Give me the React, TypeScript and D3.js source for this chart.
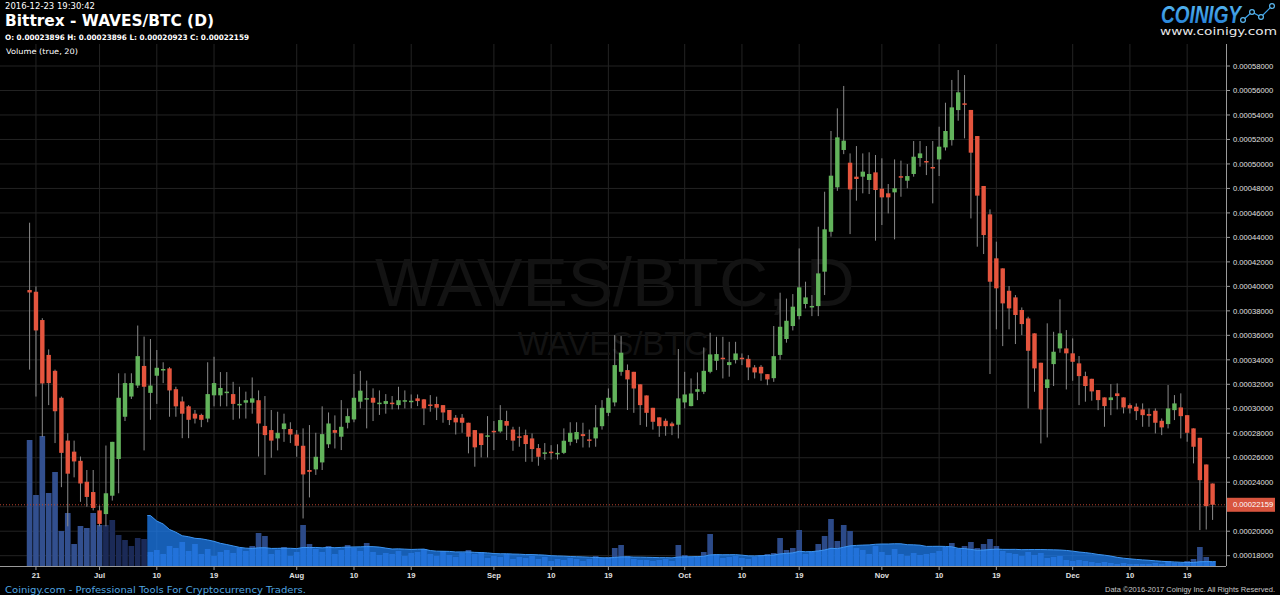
import React from 'react';
import * as d3 from 'd3';

// ---------- DATA (prices in units of 1e-5 BTC) ----------
const START_DATE = '2016-06-20';
const UNIT = 1e-5;

const openE5 = [
  39.7,39.56,37.25,34.4,33.1,30.9,27.4,26.5,25.75,24.04,
  23.2,21.7,21.4,22.9,25.9,29.35,31.0,31.9,33.5,31.3,
  32.7,33.15,33.3,31.6,30.6,30.2,29.6,29.5,29.2,31.1,
  31.1,31.3,31.2,30.3,30.5,30.5,30.7,28.6,28.26,27.58,
  28.34,28.35,27.9,26.98,25.0,25.05,25.62,27.1,28.26,27.72,
  28.86,29.13,30.58,30.77,30.9,30.4,30.4,30.5,30.3,30.66,
  30.6,30.85,30.77,30.35,30.39,30.3,29.9,29.27,29.27,28.86,
  28.26,27.99,27.75,28.2,28.15,29.0,28.3,27.75,27.85,27.58,
  26.79,26.36,26.5,26.33,26.4,27.3,27.5,27.93,27.5,27.58,
  28.58,29.67,30.52,33.02,33.16,33.02,32.0,31.09,30.08,29.3,
  29.02,28.8,28.7,30.52,30.22,31.39,31.39,33.02,33.92,34.17,
  33.57,33.98,34.17,34.08,33.38,33.43,32.83,32.5,34.4,35.7,
  36.76,37.57,38.56,38.35,38.39,41.2,44.46,48.09,51.14,50.1,
  48.96,48.96,48.69,49.31,47.98,47.6,47.68,49.0,48.63,49.18,
  50.48,50.24,49.75,50.37,51.35,51.95,54.4,54.95,54.41,52.28,
  48.2,45.88,42.29,41.47,39.64,39.1,38.07,37.38,36.16,33.76,
  31.7,33.65,34.93,34.93,34.53,33.71,32.67,32.45,31.53,30.93,
  30.71,31.26,30.93,30.3,30.17,29.95,29.57,29.84,29.02,28.75,
  29.89,30.11,29.48,28.4,27.63,25.45,23.896,
];
const highE5 = [
  45.2,40.0,37.4,34.85,33.2,31.0,28.0,27.4,26.1,25.0,
  25.0,22.1,27.0,27.3,32.9,32.9,32.9,36.8,35.9,35.7,
  34.8,33.8,33.4,31.8,31.0,30.3,29.9,29.6,33.8,34.25,
  33.0,33.0,32.2,31.8,31.4,32.56,31.5,31.04,29.9,29.76,
  29.6,28.9,28.26,28.4,28.67,28.04,30.2,29.7,29.46,30.71,
  30.03,32.84,33.1,32.3,31.67,31.5,31.2,31.04,31.8,31.5,
  31.17,31.17,30.8,31.12,30.99,30.3,29.9,29.49,29.57,28.86,
  28.26,27.99,29.4,29.0,30.3,29.84,28.53,28.53,28.3,27.99,
  27.12,27.2,27.03,27.1,28.4,28.9,28.9,28.86,28.3,30.3,
  30.71,31.66,36.02,35.94,33.62,33.02,32.0,31.09,30.08,29.3,
  29.2,28.94,34.88,33.02,32.48,32.97,35.01,36.21,35.88,35.88,
  35.47,35.47,34.52,34.38,33.57,33.57,32.83,36.76,39.48,39.0,
  39.37,43.1,40.38,39.29,44.87,47.73,52.69,54.54,56.37,50.86,
  51.46,50.86,50.95,50.73,50.46,48.36,50.37,50.27,49.99,51.87,
  51.87,51.46,51.87,53.04,55.0,56.86,57.67,57.26,54.41,52.28,
  48.2,46.29,43.65,41.47,40.03,39.29,38.28,37.52,36.16,33.76,
  36.98,36.29,38.94,36.43,35.75,34.31,33.03,32.45,31.53,30.93,
  32.02,32.07,30.93,30.44,30.44,30.44,30.03,30.03,29.21,31.94,
  31.12,31.26,29.48,28.4,27.63,25.45,23.896,
];
const lowE5 = [
  33.2,31.0,27.7,30.3,27.2,23.6,20.4,24.4,22.4,22.0,
  21.7,20.4,20.4,22.5,23.1,29.0,30.8,31.7,26.6,29.1,
  30.4,32.1,29.35,29.35,27.6,27.6,28.8,28.5,28.9,30.2,
  30.2,30.2,29.1,29.2,29.2,29.6,26.1,24.6,26.0,26.6,
  27.3,27.2,26.08,21.04,22.76,24.6,25.0,26.8,26.76,26.63,
  28.4,28.9,30.03,28.4,29.0,29.5,29.6,29.95,29.95,30.03,
  30.03,30.22,28.67,29.76,29.08,28.86,28.67,27.9,28.04,26.36,
  25.27,26.03,26.03,26.63,28.04,27.45,26.57,26.9,25.67,25.67,
  25.35,25.83,25.86,25.86,26.3,27.0,27.2,26.84,26.84,26.9,
  28.3,29.4,30.2,32.7,29.9,29.67,28.67,28.53,28.3,27.71,
  27.8,27.85,27.58,30.03,30.2,30.71,31.2,32.9,33.16,32.48,
  32.62,33.7,33.57,32.34,32.48,32.29,31.93,32.2,34.0,35.4,
  36.4,37.3,38.2,37.57,37.57,39.29,44.06,47.8,50.8,44.27,
  47.0,47.6,47.54,43.73,45.01,45.96,43.84,47.32,48.01,48.96,
  49.78,49.09,46.78,49.01,51.1,51.5,53.53,52.09,45.55,43.24,
  42.64,32.84,36.49,35.12,36.49,35.29,36.02,30.03,31.39,27.17,
  27.66,31.86,34.58,31.58,32.29,30.3,30.58,30.66,29.89,28.53,
  29.48,29.95,29.62,29.62,29.08,28.53,28.53,27.99,27.85,28.4,
  29.08,27.58,27.31,25.54,20.09,20.14,20.923,
];
const closeE5 = [
  39.5,36.4,32.07,32.1,29.8,26.4,24.7,25.7,23.9,22.8,
  21.9,20.6,23.1,27.3,30.9,32.1,32.1,34.3,31.8,31.9,
  33.35,33.25,31.5,30.2,29.6,29.1,29.2,29.1,31.2,32.1,
  31.7,31.4,30.4,30.4,30.7,30.85,28.8,27.85,27.4,28.04,
  28.8,27.9,26.98,24.64,24.85,26.08,27.93,28.8,28.04,28.53,
  29.4,30.9,31.48,30.87,30.5,30.5,30.63,30.4,30.7,30.7,
  30.66,30.63,30.03,30.3,30.09,29.7,29.08,28.89,28.86,27.72,
  26.85,27.04,27.83,28.1,29.08,28.62,27.4,27.7,27.12,26.71,
  26.08,26.44,26.45,26.4,27.39,28.04,28.1,27.77,27.4,28.48,
  30.08,30.9,33.57,34.58,32.4,31.66,30.3,29.67,28.94,28.58,
  28.58,28.58,30.85,31.17,31.25,31.6,33.1,34.44,34.47,34.1,
  33.81,34.52,34.1,33.38,32.97,32.89,32.4,34.3,36.7,37.19,
  38.34,39.92,39.1,38.4,41.06,44.66,49.04,52.17,51.9,47.92,
  48.77,49.37,49.18,47.87,47.27,47.27,48.01,48.95,49.01,50.59,
  50.86,50.17,49.68,51.41,52.69,54.62,55.85,54.84,50.92,47.41,
  44.19,40.38,39.84,38.61,38.2,37.66,36.92,34.74,33.3,29.95,
  32.4,34.66,36.16,34.53,33.84,32.67,31.86,31.42,30.71,30.22,
  30.93,31.04,30.11,30.03,29.81,29.48,29.43,28.86,28.48,30.03,
  30.44,29.4,28.04,26.9,24.17,22.05,22.159,
];
const volume = [
  126,71,130,73,94,35,53,22,40,38,53,41,41,46,31,26,20,28,27,
  14,16,12,20,18,24,15,22,12,17,10,14,
  16,13,18,15,20,33,30,12,16,19,10,14,
  41,
  22,17,14,20,12,16,21,18,15,23,14,11,13,12,15,10,13,
  14,17,12,10,15,11,9,13,16,12,14,8,10,9,12,7,9,8,10,7,9,
  5,7,6,8,7,5,7,10,8,9,18,21,10,7,6,6,5,6,7,5,
  21,
  11,9,10,14,32,12,8,9,10,8,7,9,11,12,13,
  28,16,18,36,12,14,22,30,47,25,41,35,18,16,12,20,14,11,17,12,
  10,13,11,12,13,15,19,23,17,20,24,18,22,27,20,15,13,12,10,14,11,13,
  8,9,10,6,5,6,5,4,3,4,3,2,3,2,2,2,2,3,2,5,3,3,5,7,19,9,4,
];
const MA_PERIOD = 20;
const priceTicks = [
  0.00018,0.0002,0.00022,0.00024,0.00026,0.00028,0.0003,0.00032,0.00034,0.00036,
  0.00038,0.0004,0.00042,0.00044,0.00046,0.00048,0.0005,0.00052,0.00054,0.00056,0.00058,
];
const dateTicks = [
  '2016-06-21','2016-07-01','2016-07-10','2016-07-19','2016-08-01','2016-08-10','2016-08-19',
  '2016-09-01','2016-09-10','2016-09-19','2016-10-01','2016-10-10','2016-10-19',
  '2016-11-01','2016-11-10','2016-11-19','2016-12-01','2016-12-10','2016-12-19',
];
const lastPrice = 0.00022159;

const parse = d3.utcParse('%Y-%m-%d');

export default function App() {
  const W = 1280, H = 595;
  const plotRight = 1226, plotTop = 44, plotBottom = 566;
  const start = parse(START_DATE) as Date;
  const dates = openE5.map((_, i) => d3.utcDay.offset(start, i));
  const x = d3.scaleUtc().domain([dates[0], dates[dates.length - 1]]).range([29.6, 1212.6]);
  const y = d3.scaleLinear().domain([0.00018, 0.00058]).range([555.7, 66]);
  const yv = d3.scaleLinear().domain([0, 130]).range([plotBottom, 436]);
  const step = x(dates[1]) - x(dates[0]);
  const bodyW = 4.4;
  const barW = step - 0.7;

  const ma: (number | null)[] = volume.map((_, i) =>
    i < MA_PERIOD - 1 ? null : (d3.mean(volume.slice(i - MA_PERIOD + 1, i + 1)) as number)
  );
  const maPts: [number, number][] = [];
  ma.forEach((m, i) => { if (m != null) maPts.push([x(dates[i]), yv(m)]); });
  const first = maPts[0], last = maPts[maPts.length - 1];
  const maFull: [number, number][] = [[first[0] - step / 2, first[1]], ...maPts, [last[0] + step / 2, last[1]]];
  const areaGen = d3.area<[number, number]>().x(d => d[0]).y0(plotBottom).y1(d => d[1]);
  const lineGen = d3.line<[number, number]>().x(d => d[0]).y(d => d[1]);

  const fmtTick = (d: Date) => d.getUTCDate() === 1 ? d3.utcFormat('%b')(d) : String(d.getUTCDate());
  const ui = '"DejaVu Sans", Verdana, sans-serif';
  const ar = '"Liberation Sans", Arial, sans-serif';

  const barColor = (i: number) => (i < 12 ? '#324f8e' : i < MA_PERIOD - 1 ? '#1b2a57' : '#2c4a88');

  return (
    <svg width={W} height={H} style={{ position: 'absolute', left: 0, top: 0, background: '#000' }}>
      <defs>
        <linearGradient id="logoGrad" x1="0" y1="0" x2="0" y2="1">
          <stop offset="0" stopColor="#5ec0f5" />
          <stop offset="1" stopColor="#1d78d2" />
        </linearGradient>
      </defs>
      <rect x={0} y={0} width={W} height={H} fill="#000" />

      {/* grid */}
      {priceTicks.map(t => (
        <line key={'hg' + t} x1={0} x2={plotRight} y1={y(t)} y2={y(t)} stroke="#232323" strokeWidth={1} />
      ))}
      {dateTicks.map(s => {
        const px = x(parse(s) as Date);
        return <line key={'vg' + s} x1={px} x2={px} y1={plotTop} y2={plotBottom} stroke="#232323" strokeWidth={1} />;
      })}

      {/* watermark */}
      <text x={615} y={306} textAnchor="middle" fontFamily={ar} fontSize={68} fill="#131313">WAVES/BTC, D</text>
      <text x={613} y={355} textAnchor="middle" fontFamily={ar} fontSize={33} fill="#131313">WAVES/BTC</text>

      {/* volume bars */}
      {volume.map((v, i) => (
        <rect key={'v' + i} x={x(dates[i]) - barW / 2} y={yv(v)} width={barW} height={plotBottom - yv(v)} fill={barColor(i)} />
      ))}
      {/* volume moving average area */}
      <path d={areaGen(maFull) || ''} fill="rgba(30,130,250,0.72)" />
      <path d={lineGen(maFull) || ''} fill="none" stroke="#3d95f2" strokeWidth={1} />

      {/* last price dotted line */}
      <line x1={0} x2={plotRight} y1={y(lastPrice)} y2={y(lastPrice)} stroke="#b8432f" strokeWidth={1} strokeDasharray="1,2" />

      {/* candles */}
      {openE5.map((o, i) => {
        const c = closeE5[i];
        const up = c >= o;
        const cx = x(dates[i]);
        const top = y(Math.max(o, c) * UNIT);
        const bot = y(Math.min(o, c) * UNIT);
        return (
          <g key={'c' + i}>
            <line x1={cx} x2={cx} y1={y(highE5[i] * UNIT)} y2={y(lowE5[i] * UNIT)} stroke="#8a8a8a" strokeWidth={1} />
            <rect x={cx - bodyW / 2} y={top} width={bodyW} height={Math.max(1.5, bot - top)} fill={up ? '#62b35b' : '#e5553e'} />
          </g>
        );
      })}

      {/* axes */}
      <line x1={plotRight + 0.5} x2={plotRight + 0.5} y1={plotTop} y2={plotBottom} stroke="#9a9a9a" strokeWidth={1} />
      <line x1={0} x2={plotRight} y1={plotBottom + 0.5} y2={plotBottom + 0.5} stroke="#9a9a9a" strokeWidth={1} />
      {priceTicks.map(t => (
        <g key={'pt' + t}>
          <line x1={plotRight} x2={plotRight + 4} y1={y(t)} y2={y(t)} stroke="#9a9a9a" />
          <text x={1233} y={y(t) + 2.7} fontFamily={ar} fontSize={7.6} fill="#e0e0e0">{t.toFixed(8)}</text>
        </g>
      ))}
      <rect x={1227} y={y(lastPrice) - 7} width={48} height={14} fill="#d8553f" />
      <text x={1233} y={y(lastPrice) + 2.7} fontFamily={ar} fontSize={7.6} fill="#fff">{lastPrice.toFixed(8)}</text>
      {dateTicks.map(s => {
        const d = parse(s) as Date;
        const px = x(d);
        return (
          <g key={'dt' + s}>
            <line x1={px} x2={px} y1={plotBottom} y2={plotBottom + 4} stroke="#9a9a9a" />
            <text x={px} y={578} textAnchor="middle" fontFamily={ar} fontWeight="bold" fontSize={7.6} fill="#e0e0e0">{fmtTick(d)}</text>
          </g>
        );
      })}

      {/* header */}
      <text x={5} y={9} fontFamily={ui} fontSize={8.5} fill="#fff" textLength={90} lengthAdjust="spacingAndGlyphs">2016-12-23 19:30:42</text>
      <text x={5} y={26} fontFamily={ui} fontWeight="bold" fontSize={16} fill="#fff" textLength={209} lengthAdjust="spacingAndGlyphs">Bittrex - WAVES/BTC (D)</text>
      <text x={5} y={40} fontFamily={ui} fontWeight="bold" fontSize={7.5} fill="#fff" textLength={244} lengthAdjust="spacingAndGlyphs">O: 0.00023896 H: 0.00023896 L: 0.00020923 C: 0.00022159</text>
      <text x={6} y={54} fontFamily={ui} fontSize={7.5} fill="#fff" textLength={72} lengthAdjust="spacingAndGlyphs">Volume (true, 20)</text>

      {/* logo */}
      <text x={1161} y={23} fontFamily={ar} fontWeight="bold" fontStyle="italic" fontSize={24} fill="url(#logoGrad)" textLength={80} lengthAdjust="spacingAndGlyphs">COINIGY</text>
      <polyline points="1243,20 1252,12 1261,17 1272,6" fill="none" stroke="#3aa0ea" strokeWidth={1.2} />
      {[[1243, 20], [1252, 12], [1261, 17], [1272, 6]].map(([a, b], k) => (
        <circle key={'lc' + k} cx={a} cy={b} r={2.4} fill="#000" stroke="#5bb8f0" strokeWidth={1.2} />
      ))}
      <text x={1160} y={35} fontFamily={ui} fontSize={10} fill="#e8e8e8" textLength={117} lengthAdjust="spacingAndGlyphs">www.coinigy.com</text>

      {/* footer */}
      <text x={5} y={593} fontFamily={ui} fontSize={9} fill="#4fa6e0" textLength={301} lengthAdjust="spacingAndGlyphs">Coinigy.com - Professional Tools For Cryptocurrency Traders.</text>
      <text x={1105} y={592} fontFamily={ar} fontSize={7} fill="#c8c8c8" textLength={170} lengthAdjust="spacingAndGlyphs">Data ©2016-2017 Coinigy Inc. All Rights Reserved.</text>
    </svg>
  );
}
